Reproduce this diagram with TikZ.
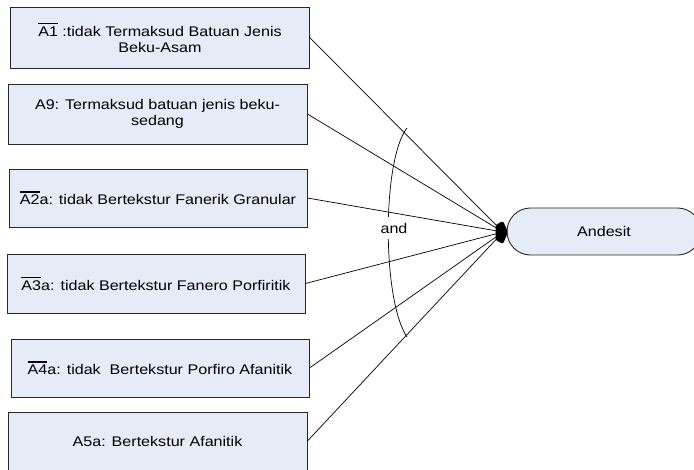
\documentclass[tikz,border=0pt]{standalone}
\usepackage{fontspec}
\setmainfont[FakeStretch=1.15]{Liberation Sans}
\newcommand\ovbar[1]{\leavevmode\vbox{\hrule height 1.3pt\kern 2.2pt\hbox{#1}}}
\definecolor{boxfill}{RGB}{229,236,247}
\definecolor{boxline}{RGB}{40,40,40}
\begin{document}
\begin{tikzpicture}[x=1pt,y=-1pt,
  every node/.style={font=\fontsize{14}{16}\selectfont},
  condbox/.style={draw=boxline,line width=0.9pt,fill=boxfill,rectangle,
    inner sep=0pt,align=center},
  goalbox/.style={draw=boxline,line width=0.9pt,fill=boxfill,rectangle,
    rounded corners=23.5pt,inner sep=0pt,minimum width=194pt,minimum height=47pt},
  link/.style={line width=0.7pt,black}]
\useasboundingbox (0,0) rectangle (694,469);

% premise boxes
\node[condbox,minimum width=298.5pt,minimum height=61pt] (p1) at (160,37.5)
  {\ovbar{A1} :tidak Termaksud Batuan Jenis\\Beku-Asam};
\node[condbox,minimum width=299pt,minimum height=60pt] (p2) at (157.5,114)
  {A9: Termaksud batuan jenis beku-\\sedang};
\node[condbox,minimum width=298pt,minimum height=58pt] (p3) at (158,198)
  {\ovbar{A2}a: tidak Bertekstur Fanerik Granular};
\node[condbox,minimum width=298pt,minimum height=59pt] (p4) at (156,283.5)
  {\ovbar{A3}a: tidak Bertekstur Fanero Porfiritik};
\node[condbox,minimum width=298pt,minimum height=58pt] (p5) at (160,368)
  {\ovbar{A4}a: tidak\ \ Bertekstur Porfiro Afanitik};
\node[condbox,minimum width=299pt,minimum height=58pt] (p6) at (157.5,441)
  {A5a: Bertekstur Afanitik};

% conclusion
\node[goalbox] (g) at (604,231.5) {Andesit};

% junction point
\coordinate (j) at (503,232);
\foreach \p in {p1,p2,p3,p4,p5,p6}
  \draw[link] (\p.east) -- (j);
\fill[black,rounded corners=1.5pt] (495.5,225) -- (503,221) -- (508,232)
  -- (503,244) -- (495.5,240) -- cycle;

% conjunction arc and its label
\draw[line width=0.7pt] (407,128) .. controls (382,160) and (382,300) .. (407,337);
\node[fill=white,inner sep=1pt,minimum height=22pt] (andlbl) at (394,228) {and};
\end{tikzpicture}
\end{document}
